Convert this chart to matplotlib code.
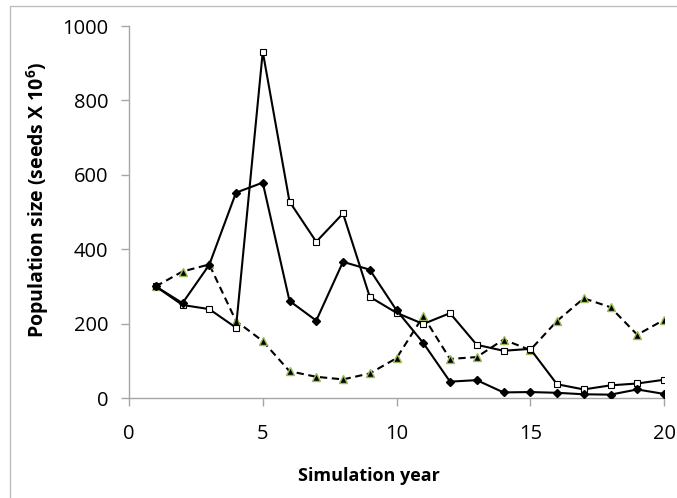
import matplotlib
matplotlib.use("Agg")
import matplotlib.pyplot as plt
from matplotlib.patches import Rectangle

years = list(range(1, 21))
series_diamond = [300, 255, 358, 552, 579, 261, 208, 366, 345, 236, 148, 44, 48, 15, 16, 14, 10, 9, 23, 11]
series_square = [300, 250, 239, 189, 931, 528, 420, 496, 272, 229, 199, 228, 143, 127, 132, 37, 23, 34, 39, 49]
series_triangle = [300, 340, 359, 207, 153, 72, 57, 50, 66, 107, 220, 105, 110, 157, 129, 207, 268, 244, 170, 210]

xticks = [0, 5, 10, 15, 20]
yticks = [0, 200, 400, 600, 800, 1000]

plt.rcParams['font.family'] = ['Open Sans', 'DejaVu Sans']
plt.rcParams['mathtext.default'] = 'regular'

fig = plt.figure(figsize=(6.77, 4.98), dpi=100)
ax = fig.add_axes([129/677, 1 - 398/498, (664 - 129)/677, (398 - 26)/498])

fig.patches.append(Rectangle((10/677, -0.1), 1.2, 1 - 6/498 + 0.1, transform=fig.transFigure,
                             fill=False, edgecolor='#bfbfbf', linewidth=1.0))

ax.plot(years, series_triangle, color='black', linestyle=(0, (3.5, 2.2)), linewidth=1.5,
        marker='^', markersize=6, markerfacecolor='black', markeredgecolor='#9bbb59',
        markeredgewidth=1.0, zorder=3)
ax.plot(years, series_square, color='black', linestyle='-', linewidth=1.5,
        marker='s', markersize=5, markerfacecolor='white', markeredgecolor='black',
        markeredgewidth=0.8, zorder=4)
ax.plot(years, series_diamond, color='black', linestyle='-', linewidth=1.5,
        marker='D', markersize=3.8, markerfacecolor='black', markeredgecolor='black', zorder=5)

ax.set_xlim(0, 20)
ax.set_ylim(0, 1000)
ax.set_xticks(xticks)
ax.set_yticks(yticks)
ax.spines['top'].set_visible(False)
ax.spines['right'].set_visible(False)
for s in ['left', 'bottom']:
    ax.spines[s].set_color('#a6a6a6')
    ax.spines[s].set_linewidth(1.0)
ax.tick_params(axis='both', colors='#a6a6a6', labelcolor='black', labelsize=14.5, length=6, width=1.0)
ax.tick_params(axis='x', pad=13)
ax.tick_params(axis='y', pad=9)
for sp in ax.spines.values():
    sp.set_clip_on(False)

ax.set_xlabel('Simulation year', fontsize=13, fontweight='bold', labelpad=16)
ax.set_ylabel('Population size (seeds X 10$^{6}$)', fontsize=14, fontweight='bold', labelpad=8)
ax.xaxis.label.set_x(0.448)
ax.yaxis.label.set_y(0.532)

fig.savefig('out.png', dpi=100)
